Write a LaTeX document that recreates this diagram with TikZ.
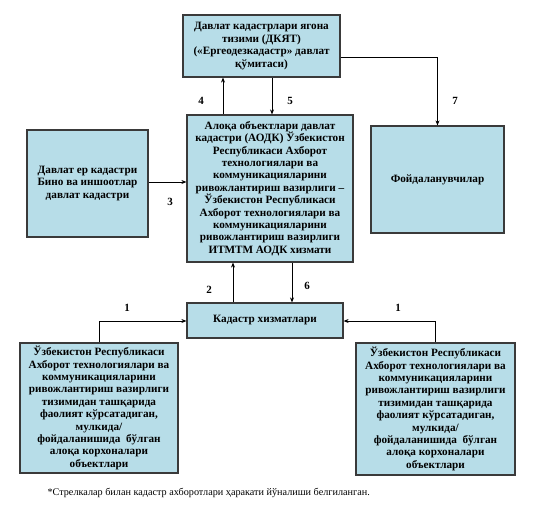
\documentclass[tikz,border=0pt]{standalone}
\usepackage{fontspec}
\setmainfont{Liberation Serif}
\usetikzlibrary{arrows.meta}
\definecolor{boxfill}{HTML}{B7DDE8}
\definecolor{boxline}{HTML}{3A3A3A}
\begin{document}
\begin{tikzpicture}[x=1pt,y=-1pt,
  box/.style={draw=boxline,line width=1.2pt,fill=boxfill,align=center,inner sep=2pt,
    font=\fontsize{11.2}{12.4}\selectfont\bfseries},
  arr/.style={line width=0.8pt,-{Stealth[length=5pt,width=4pt]}},
  con/.style={line width=0.8pt},
  lab/.style={font=\fontsize{11}{12}\selectfont\bfseries}]
\useasboundingbox (0,0) rectangle (554,520);
\node[box,minimum width=157pt,minimum height=62pt] (top) at (261.5,46)
  {Давлат кадастрлари ягона\\тизими (ДКЯТ)\\(«Ергеодезкадастр» давлат\\қўмитаси)};
\node[box,minimum width=166pt,minimum height=147pt] (mid) at (270,188.5)
  {Алоқа объектлари давлат\\кадастри (АОДК) Ўзбекистон\\Республикаси Ахборот\\технологиялари ва\\коммуникацияларини\\ривожлантириш вазирлиги –\\Ўзбекистон Республикаси\\Ахборот технологиялари ва\\коммуникацияларини\\ривожлантириш вазирлиги\\ИТМТМ АОДК хизмати};
\node[box,minimum width=121pt,minimum height=107pt] (left) at (87.5,183.5)
  {Давлат ер кадастри\\Бино ва иншоотлар\\давлат кадастри};
\node[box,minimum width=133pt,minimum height=107pt] (users) at (437.5,179.5)
  {Фойдаланувчилар};
\node[box,minimum width=156pt,minimum height=35pt] (kad) at (265,320.5)
  {Кадастр хизматлари};
\node[box,minimum width=158pt,minimum height=130pt] (bl) at (99,408)
  {Ўзбекистон Республикаси\\Ахборот технологиялари ва\\коммуникацияларини\\ривожлантириш вазирлиги\\тизимидан ташқарида\\фаолият кўрсатадиган,\\мулкида/\\фойдаланишида\ \ бўлган\\алоқа корхоналари\\объектлари};
\node[box,minimum width=159pt,minimum height=132pt] (br) at (435.5,409)
  {Ўзбекистон Республикаси\\Ахборот технологиялари ва\\коммуникацияларини\\ривожлантириш вазирлиги\\тизимидан ташқарида\\фаолият кўрсатадиган,\\мулкида/\\фойдаланишида\ \ бўлган\\алоқа корхоналари\\объектлари};
% connectors
\draw[arr] (mid.north -| 223,0) -- (top.south -| 223,0);
\draw[arr] (top.south -| 272,0) -- (mid.north -| 272,0);
\draw[arr] (top.east |- 0,57) -| (users.north);
\draw[arr] (left.east |- 0,182) -- (mid.west |- 0,182);
\draw[arr] (kad.north -| 233,0) -- (mid.south -| 233,0);
\draw[arr] (mid.south -| 292,0) -- (kad.north -| 292,0);
\draw[arr] (bl.north) |- (kad.west |- 0,321);
\draw[arr] (br.north) |- (kad.east |- 0,321);
% labels
\node[lab] (l4) at (201,101) {4};
\node[lab] (l5) at (290,101) {5};
\node[lab] (l7) at (455,101) {7};
\node[lab] (l3) at (170,202) {3};
\node[lab] (l2) at (209,290) {2};
\node[lab] (l6) at (307,286) {6};
\node[lab] (l1a) at (127,308) {1};
\node[lab] (l1b) at (398,308) {1};
\node[anchor=west,font=\fontsize{10.2}{11}\selectfont] (note) at (44,493)
  {*Стрелкалар билан кадастр ахборотлари ҳаракати йўналиши белгиланган.};
\end{tikzpicture}
\end{document}
